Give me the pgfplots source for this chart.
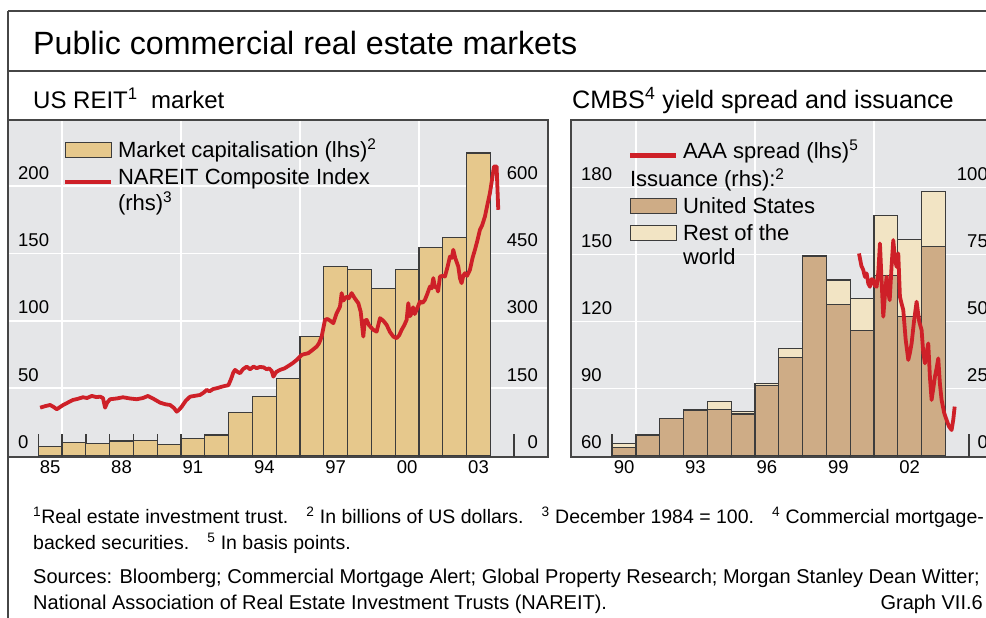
\documentclass[border=0pt]{standalone}
\usepackage{pgfplots}
\pgfplotsset{compat=1.18}
\usepackage{fontspec}
\setmainfont{Liberation Sans}
\definecolor{bgc}{RGB}{229,230,232}
\definecolor{capc}{RGB}{230,200,140}
\definecolor{usc}{RGB}{206,172,134}
\definecolor{rowc}{RGB}{242,228,196}
\definecolor{redc}{RGB}{206,32,40}
\definecolor{edgec}{RGB}{60,60,60}
\definecolor{framec}{RGB}{70,70,70}
\newcommand{\tickfont}{\fontsize{18.5}{20}\selectfont}
\newcommand{\legfont}{\fontsize{22}{24}\selectfont}
\pgfplotsset{
  base/.style={scale only axis, height=337pt, anchor=south west,
    tick label style={font=\tickfont},
    /pgf/number format/assume math mode=true},
  bgaxis/.style={base, axis background/.style={fill=bgc},
    grid=major, major grid style={white, line width=1.6pt},
    xticklabels={}, yticklabels={}, major tick length=0pt,
    axis line style={framec, line width=1.3pt}},
  fgaxis/.style={base, axis line style={draw=none}},
  leftlab/.style={yticklabel style={anchor=base west, inner sep=0pt, xshift=10pt, yshift=7pt}},
  rightlab/.style={yticklabel pos=right, yticklabel style={anchor=base east, inner sep=0pt, xshift=#1, yshift=7pt}},
  areaimg/.style={legend image code/.code={\draw[##1] (0pt,0pt) rectangle (46pt,15pt);}},
  lineimg/.style={legend image code/.code={\draw[##1] (0pt,2.5pt) -- (46pt,2.5pt);}},
  mylegend/.style={legend style={at={(rel axis cs:0,1)}, anchor=north west,
    draw=none, fill=none, inner sep=0pt, outer sep=0pt, row sep=5pt,
    font=\legfont, cells={anchor=base west, inner sep=0pt},
    /tikz/every odd column/.style={column sep=2.5pt}}},
}
\begin{document}
\begin{tikzpicture}[x=1pt,y=1pt]
\useasboundingbox (0,0) rectangle (986,618);
\clip (0,0) rectangle (986,618);

% frame lines
\draw[framec, line width=1.3pt] (8,607) -- (986,607);
\draw[framec, line width=1.3pt] (8,547) -- (986,547);
\draw[framec, line width=1.3pt] (8,607) -- (8,0);

% titles
\node[anchor=base west, inner sep=0pt, font=\fontsize{32.2}{36}\selectfont] at (33,563) {Public commercial real estate markets};
\node[anchor=base west, inner sep=0pt, font=\fontsize{24}{26}\selectfont] at (33,509.7) {US REIT\textsuperscript{1}\ \ market};
\node[anchor=base west, inner sep=0pt, font=\fontsize{25.2}{27}\selectfont] at (572,509.7) {CMBS\textsuperscript{4} yield spread and issuance};

% ---------------- Left panel ----------------
\begin{axis}[bgaxis, at={(8pt,161pt)}, width=540pt,
  xmin=1983.73, xmax=2006.42, ymin=-1.1, ymax=249,
  xtick={1986,1991,1996,2001}, ytick={50,100,150,200}]
\end{axis}

\begin{axis}[fgaxis, leftlab, at={(8pt,161pt)}, width=540pt,
  xmin=1983.73, xmax=2006.42, ymin=-1.1, ymax=249,
  xtick={1985.5,1988.5,...,2003.5}, xticklabels={85,88,91,94,97,00,03},
  minor xtick={1985,...,2005}, tick align=inside, xtick pos=bottom,
  major tick length=0pt, minor tick length=23pt,
  minor x tick style={edgec, line width=1.4pt},
  ytick={0,50,100,150,200}, ytick style={draw=none}]
\addplot[ybar, bar width=23.8pt, fill=capc, draw=edgec, line width=1.1pt] coordinates {
(1985.5,7.0) (1986.5,9.5) (1987.5,9.0) (1988.5,10.8) (1989.5,11.0) (1990.5,8.3)
(1991.5,12.3) (1992.5,15.2) (1993.5,31.6) (1994.5,43.8) (1995.5,57.1) (1996.5,88.3)
(1997.5,140.3) (1998.5,137.8) (1999.5,123.9) (2000.5,138.3) (2001.5,154.7)
(2002.5,161.8) (2003.5,224.5)};
\end{axis}

\begin{axis}[fgaxis, rightlab=-10pt, mylegend, legend style={xshift=55pt, yshift=-17pt},
  at={(8pt,161pt)}, width=540pt,
  xmin=1983.73, xmax=2006.42, ymin=-3.3, ymax=747,
  xtick=\empty, ytick={0,150,300,450,600}, ytick style={draw=none}]
\addlegendimage{areaimg, fill=capc, draw=edgec, line width=1.1pt}
\addlegendentry{Market capitalisation (lhs)\textsuperscript{2}}
\addlegendimage{lineimg, redc, line width=4.5pt}
\addlegendentry{\begin{tabular}[t]{@{}l@{}}NAREIT Composite Index\\(rhs)\textsuperscript{3}\end{tabular}}
\addplot[forget plot, redc, line width=3.8pt, line join=round] coordinates {
(1985.08,106.5) (1985.30,110) (1985.50,112.5) (1985.65,108) (1985.78,103) (1985.92,108)
(1986.05,112.5) (1986.25,118) (1986.46,123.7) (1986.65,126) (1986.88,129.7) (1987.05,128)
(1987.25,132.6) (1987.45,130) (1987.60,131) (1987.72,128) (1987.81,106.5) (1987.90,118)
(1988.02,125.3) (1988.30,127) (1988.56,129.7) (1988.85,127) (1989.14,125.3) (1989.40,128)
(1989.61,132.6) (1989.85,126) (1990.12,117.7) (1990.35,114) (1990.54,112.5) (1990.70,106)
(1990.82,97.6) (1990.92,102) (1991.03,108.8) (1991.20,122) (1991.38,131) (1991.60,133)
(1991.80,134.8) (1991.95,140) (1992.08,146) (1992.20,143) (1992.35,148) (1992.50,149.8)
(1992.70,153) (1992.85,155) (1992.99,156.5) (1993.10,170) (1993.20,185) (1993.27,190.6)
(1993.38,186) (1993.48,183.2) (1993.60,192) (1993.76,197.9) (1993.90,192) (1994.05,198)
(1994.18,194.3) (1994.30,197) (1994.46,196.6) (1994.60,192) (1994.70,194) (1994.81,188.3)
(1994.88,175.6) (1995.00,186) (1995.16,190.6) (1995.35,194) (1995.58,201.7) (1995.70,206)
(1995.86,212.8) (1996.07,224) (1996.20,226) (1996.35,227.8) (1996.50,234) (1996.70,242.5)
(1996.80,250) (1996.91,264.8) (1997.05,302) (1997.15,304) (1997.26,300.4) (1997.40,294.6)
(1997.54,316.9) (1997.68,331.6) (1997.75,361.5) (1997.82,345) (1997.96,353.9) (1998.05,350)
(1998.17,361.5) (1998.30,350) (1998.45,339.2) (1998.55,320) (1998.66,264.8) (1998.72,300)
(1998.80,302) (1998.90,290) (1999.08,279.7) (1999.22,275.9) (1999.36,305.8) (1999.50,300)
(1999.64,290.8) (1999.78,275) (1999.92,264.8) (2000.06,261.2) (2000.17,268) (2000.27,279.7)
(2000.38,290) (2000.48,302) (2000.55,339.2) (2000.62,310) (2000.69,316.9) (2000.75,330)
(2000.82,315) (2000.90,324.3) (2001.04,342.8) (2001.15,340) (2001.25,346.6) (2001.35,360)
(2001.46,376.2) (2001.53,372) (2001.60,394.9) (2001.67,375) (2001.74,376.2) (2001.80,365)
(2001.88,398.5) (2002.00,400) (2002.09,398.5) (2002.20,420) (2002.30,443) (2002.38,440)
(2002.44,458) (2002.52,440) (2002.65,420.8) (2002.72,395) (2002.79,383.8) (2002.86,400)
(2002.93,406) (2003.02,400) (2003.14,413.4) (2003.25,440) (2003.35,458) (2003.45,478)
(2003.56,502.6) (2003.65,512) (2003.77,532.2) (2003.88,560) (2003.98,584.4) (2004.07,615)
(2004.15,643.6) (2004.26,643.6) (2004.33,547.1)};
\end{axis}

% ---------------- Right panel ----------------
\begin{axis}[bgaxis, at={(571pt,161pt)}, width=432pt,
  xmin=1988.27, xmax=2006.42, ymin=59.33, ymax=210.3,
  xtick={1991,1996,2001}, ytick={90,120,150,180}]
\end{axis}

\begin{axis}[fgaxis, rightlab=-15pt, at={(571pt,161pt)}, width=432pt,
  xmin=1988.27, xmax=2006.42, ymin=-0.56, ymax=125.25,
  ybar stacked, bar width=23.8pt,
  xtick={1990.5,1993.5,...,2002.5}, xticklabels={90,93,96,99,02},
  minor xtick={1990,...,2005}, tick align=inside, xtick pos=bottom,
  major tick length=0pt, minor tick length=23pt,
  minor x tick style={edgec, line width=1.4pt},
  ytick={0,25,50,75,100}, ytick style={draw=none}]
\addplot[fill=usc, draw=edgec, line width=1.1pt] coordinates {
(1990.5,3.1) (1991.5,7.3) (1992.5,13.7) (1993.5,16.7) (1994.5,17.2) (1995.5,15.5)
(1996.5,26.2) (1997.5,36.6) (1998.5,74.2) (1999.5,56.3) (2000.5,46.6) (2001.5,67.1)
(2002.5,51.8) (2003.5,77.9)};
\addplot[fill=rowc, draw=edgec, line width=1.1pt] coordinates {
(1990.5,1.4) (1991.5,0.7) (1992.5,0) (1993.5,0.5) (1994.5,2.8) (1995.5,1.0)
(1996.5,0.7) (1997.5,3.5) (1998.5,0.5) (1999.5,9.2) (2000.5,12.1) (2001.5,22.5)
(2002.5,28.9) (2003.5,20.8)};
\end{axis}

\begin{axis}[fgaxis, leftlab, mylegend, legend style={xshift=57pt, yshift=-18pt},
  at={(571pt,161pt)}, width=432pt,
  xmin=1988.27, xmax=2006.42, ymin=59.33, ymax=210.3,
  xtick=\empty, ytick={60,90,120,150,180}, ytick style={draw=none}]
\addlegendimage{lineimg, redc, line width=4.5pt}
\addlegendentry{AAA spread (lhs)\textsuperscript{5}}
\addlegendimage{empty legend}
\addlegendentry{\hspace*{-53pt}Issuance (rhs):\textsuperscript{2}}
\addlegendimage{areaimg, fill=usc, draw=edgec, line width=1.1pt}
\addlegendentry{United States}
\addlegendimage{areaimg, fill=rowc, draw=edgec, line width=1.1pt}
\addlegendentry{\begin{tabular}[t]{@{}l@{}}Rest of the\\world\end{tabular}}
\addplot[forget plot, redc, line width=3.8pt, line join=round] coordinates {
(2000.37,150.5) (2000.47,145) (2000.55,143.1) (2000.62,140) (2000.69,141.6) (2000.76,137)
(2000.83,135.6) (2000.90,139) (2000.97,138.6) (2001.04,136) (2001.11,135.6) (2001.18,142)
(2001.25,155.0) (2001.32,138) (2001.39,122.2) (2001.46,132) (2001.53,140.1) (2001.60,133)
(2001.66,129.6) (2001.74,145) (2001.81,156.5) (2001.88,148) (2001.95,144.5) (2002.02,150.5)
(2002.09,131.1) (2002.16,128) (2002.23,125.2) (2002.33,112) (2002.44,102.8) (2002.51,106)
(2002.58,110.2) (2002.68,120) (2002.79,128.9) (2002.90,120) (2003.00,116.2) (2003.07,106)
(2003.14,101.3) (2003.21,106) (2003.28,110.2) (2003.35,95) (2003.42,84.9) (2003.49,90)
(2003.56,95.3) (2003.63,99) (2003.70,103.5) (2003.77,92) (2003.84,84.9) (2003.95,79)
(2004.05,75.9) (2004.15,73) (2004.26,71.4) (2004.33,76) (2004.39,81.9)};
\end{axis}

% footnotes
\begin{scope}[every node/.style={anchor=base west, inner sep=0pt, font=\fontsize{20}{22}\selectfont}]
\node[font=\fontsize{19.5}{22}\selectfont] at (33,94) {\textsuperscript{1}Real estate investment trust.\hspace{18pt}\textsuperscript{2} In billions of US dollars.\hspace{18pt}\textsuperscript{3} December 1984 = 100.\hspace{18pt}\textsuperscript{4} Commercial mortgage-};
\node[font=\fontsize{19.5}{22}\selectfont] at (33,68) {backed securities.\hspace{18pt}\textsuperscript{5} In basis points.};
\node at (33,34) {Sources: Bloomberg; Commercial Mortgage Alert; Global Property Research; Morgan Stanley Dean Witter;};
\node at (33,8) {National Association of Real Estate Investment Trusts (NAREIT).};
\node[anchor=base east] at (983,8) {Graph VII.6};
\end{scope}
\end{tikzpicture}
\end{document}
